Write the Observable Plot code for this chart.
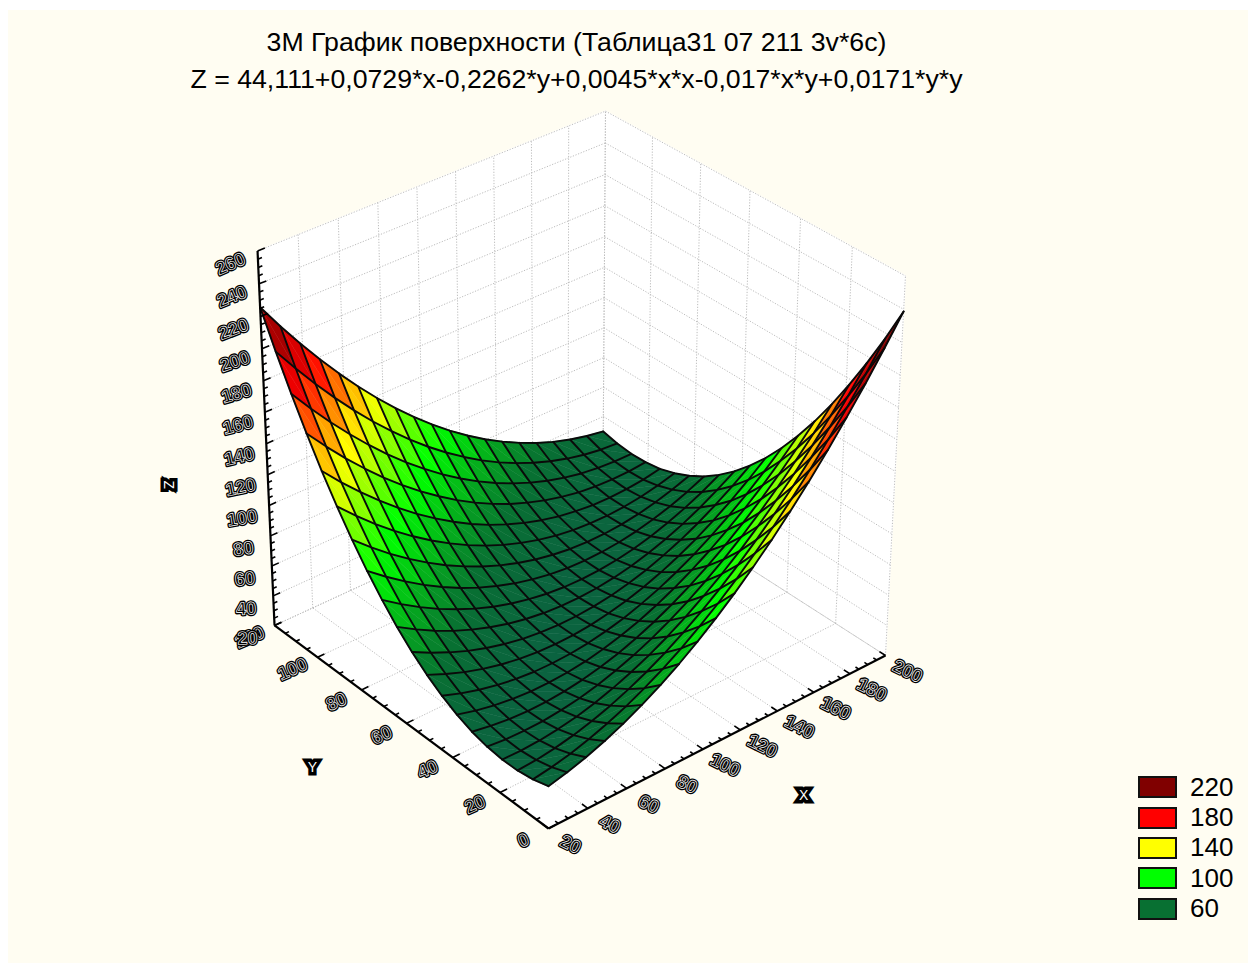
<!DOCTYPE html>
<html>
<head>
<meta charset="utf-8">
<script src="https://cdn.jsdelivr.net/npm/d3@7"></script>
<script src="https://cdn.jsdelivr.net/npm/@observablehq/plot@0.6"></script>
<style>
html,body{margin:0;padding:0;background:#fff;}
body{position:relative;width:1248px;height:963px;overflow:hidden;font-family:"Liberation Sans",Arial,sans-serif;color:#000;}
#panel{position:absolute;left:8px;top:10px;right:0;bottom:0;background:#fffdf2;}
#title{position:relative;height:104px;box-sizing:border-box;padding-top:24px;width:1153px;text-align:center;font-size:26.7px;line-height:37px;white-space:nowrap;}
#chart{position:relative;}
#legend{position:absolute;left:1138px;top:772px;}
.row{display:flex;align-items:center;height:30.4px;font-size:26px;}
.sw{width:35px;height:18px;border:2px solid #111;margin-right:13px;}
</style>
</head>
<body>
<div id="panel"></div>
<div id="title">3М График поверхности (Таблица31 07 211 3v*6c)<br>Z = 44,111+0,0729*x-0,2262*y+0,0045*x*x-0,017*x*y+0,0171*y*y</div>
<div id="chart"></div>
<div id="legend"></div>
<script>
const xValues = [20,29.47,38.95,48.42,57.89,67.37,76.84,86.32,95.79,105.26,114.74,124.21,133.68,143.16,152.63,162.11,171.58,181.05,190.53,200];
const yValues = [0,6.32,12.63,18.95,25.26,31.58,37.89,44.21,50.53,56.84,63.16,69.47,75.79,82.11,88.42,94.74,101.05,107.37,113.68,120];
// one row per x value, one column per y value
const zValues = [
[47.4,44.5,43.0,42.8,44.0,46.5,50.5,55.8,62.4,70.4,79.8,90.6,102.7,116.2,131.0,147.2,164.8,183.7,204.0,225.7],
[50.2,46.3,43.7,42.5,42.7,44.3,47.2,51.4,57.1,64.1,72.5,82.2,93.3,105.7,119.6,134.7,151.3,169.2,188.5,209.1],
[53.8,48.9,45.3,43.1,42.3,42.8,44.7,47.9,52.5,58.6,65.9,74.6,84.7,96.1,108.9,123.1,138.6,155.5,173.8,193.4],
[58.2,52.3,47.7,44.5,42.6,42.1,43.0,45.2,48.8,53.8,60.1,67.8,76.9,87.3,99.1,112.3,126.8,142.7,159.9,178.5],
[63.4,56.5,50.9,46.6,43.8,42.2,42.1,43.3,45.9,49.9,55.2,61.9,69.9,79.3,90.1,102.2,115.7,130.6,146.8,164.4],
[69.5,61.5,54.9,49.6,45.7,43.2,42.1,42.2,43.8,46.8,51.1,56.7,63.7,72.1,81.9,93.0,105.5,119.3,134.5,151.1],
[76.3,67.3,59.7,53.4,48.5,44.9,42.8,42.0,42.5,44.5,47.7,52.3,58.3,65.8,74.5,84.6,96.1,108.9,123.1,138.6],
[83.9,73.9,65.3,58.0,52.1,47.5,44.3,42.5,42.0,43.0,45.2,48.8,53.8,60.2,67.9,77.0,87.5,99.3,112.4,126.9],
[92.4,81.3,71.7,63.4,56.4,50.8,46.7,43.8,42.3,42.3,43.5,46.1,50.0,55.4,62.1,70.1,79.6,90.4,102.5,116.1],
[101.7,89.6,79.0,69.6,61.6,55.0,49.9,46.0,43.4,42.4,42.6,44.1,47.1,51.5,57.1,64.1,72.6,82.4,93.5,106.0],
[111.7,98.6,87.0,76.6,67.6,60.0,53.8,48.9,45.4,43.3,42.5,43.0,44.9,48.3,53.0,59.0,66.4,75.2,85.3,96.7],
[122.6,108.5,95.9,84.5,74.4,65.8,58.6,52.7,48.1,45.0,43.2,42.7,43.6,46.0,49.6,54.6,61.0,68.8,77.8,88.3],
[134.3,119.2,105.5,93.1,82.1,72.4,64.2,57.2,51.7,47.6,44.7,43.2,43.1,44.4,47.0,51.0,56.5,63.2,71.2,80.6],
[146.8,130.6,116.0,102.5,90.5,79.8,70.6,62.6,56.0,50.9,47.0,44.5,43.4,43.7,45.3,48.2,52.7,58.4,65.4,73.8],
[160.1,142.9,127.2,112.8,99.7,88.0,77.8,68.8,61.2,55.1,50.2,46.6,44.5,43.8,44.4,46.3,49.7,54.4,60.4,67.8],
[174.2,156.0,139.3,123.9,109.8,97.0,85.8,75.8,67.1,60.0,54.1,49.5,46.4,44.7,44.2,45.1,47.5,51.2,56.2,62.5],
[189.1,169.9,152.2,135.7,120.6,106.8,94.6,83.6,73.9,65.8,58.8,53.3,49.1,46.4,44.9,44.8,46.2,48.8,52.8,58.1],
[204.8,184.6,165.9,148.4,132.3,117.5,104.2,92.2,81.5,72.4,64.4,57.8,52.6,48.9,46.4,45.3,45.7,47.3,50.2,54.5],
[221.4,200.1,180.4,161.9,144.7,128.9,114.7,101.6,89.9,79.7,70.8,63.1,56.9,52.2,48.7,46.5,45.9,46.5,48.4,51.7],
[238.7,216.4,195.7,176.2,158.0,141.2,125.9,111.8,99.1,87.9,77.9,69.3,62.0,56.3,51.8,48.6,47.0,46.5,47.5,49.7]
];
const xTicks = [20,40,60,80,100,120,140,160,180,200];
const yTicks = [0,20,40,60,80,100,120];
const zTicks = [20,40,60,80,100,120,140,160,180,200,220,240,260];
const legendLevels = [220,180,140,100,60];
const colorDomain = [42,60,100,140,180,220];
const colorRange = ["#0b6340","#087032","#00ff00","#ffff00","#ff0000","#800000"];

const X0=20,X1=200,Y0=0,Y1=120,Z0=20,Z1=260,TOP=104;

// perspective view of the 3D box
function px(x,y,z){
  const u=(x-X0)/(X1-X0),v=(y-Y0)/(Y1-Y0),w=(z-Z0)/(Z1-Z0);
  return (548+387.7*u-253.3*v-33.9*w)/(1+0.0573*u+0.0754*v-0.0608*w);
}
function py(x,y,z){
  const u=(x-X0)/(X1-X0),v=(y-Y0)/(Y1-Y0),w=(z-Z0)/(Z1-Z0);
  return (828-135.5*u-155.9*v-418*w)/(1+0.0573*u+0.0754*v-0.0608*w);
}
const vertex=(p,id,extra)=>({sx:px(p[0],p[1],p[2]),sy:py(p[0],p[1],p[2]),id,...extra});
const seg=(a,b)=>({x1:px(...a),y1:py(...a),x2:px(...b),y2:py(...b)});

// walls and floor
const panels=[
  [[X0,Y1,Z0],[X1,Y1,Z0],[X1,Y1,Z1],[X0,Y1,Z1]],
  [[X1,Y0,Z0],[X1,Y1,Z0],[X1,Y1,Z1],[X1,Y0,Z1]],
  [[X0,Y0,Z0],[X1,Y0,Z0],[X1,Y1,Z0],[X0,Y1,Z0]]
].flatMap((c,k)=>c.map(p=>vertex(p,k)));

// dotted grid
const gridSegs=[
  ...xTicks.flatMap(x=>[seg([x,Y0,Z0],[x,Y1,Z0]),seg([x,Y1,Z0],[x,Y1,Z1])]),
  ...yTicks.flatMap(y=>[seg([X0,y,Z0],[X1,y,Z0]),seg([X1,y,Z0],[X1,y,Z1])]),
  ...zTicks.flatMap(z=>[seg([X0,Y1,z],[X1,Y1,z]),seg([X1,Y1,z],[X1,Y0,z])])
];

// surface: each grid cell is two triangles, painted back to front
const tris=[];
let tid=0;
for(let i=xValues.length-2;i>=0;i--){
  for(let j=yValues.length-2;j>=0;j--){
    const n=(a,b)=>[xValues[a],yValues[b],zValues[a][b]];
    const pairs=[[n(i+1,j+1),n(i+1,j),n(i,j+1)],[n(i,j),n(i+1,j),n(i,j+1)]];
    for(const t of pairs){
      const zv=(t[0][2]+t[1][2]+t[2][2])/3;
      t.forEach(p=>tris.push(vertex(p,tid,{zv})));
      tid++;
    }
  }
}
const meshRows=[
  ...xValues.flatMap((x,a)=>yValues.map((y,b)=>vertex([x,y,zValues[a][b]],"x"+a))),
  ...yValues.flatMap((y,b)=>xValues.map((x,a)=>vertex([x,y,zValues[a][b]],"y"+b)))
];

// axes and ticks
const minorStep=5;
const axisSegs=[seg([X0,Y0,Z0],[X1,Y0,Z0]),seg([X0,Y0,Z0],[X0,Y1,Z0]),seg([X0,Y1,Z0],[X0,Y1,Z1])];
const tickSegs=[];
for(let x=X0;x<=X1;x+=minorStep){const L=(x%20===0?0.02:0.011)*(Y1-Y0);tickSegs.push(seg([x,Y0,Z0],[x,Y0+L,Z0]));}
for(let y=Y0;y<=Y1;y+=minorStep){const L=(y%20===0?0.02:0.011)*(X1-X0);tickSegs.push(seg([X0,y,Z0],[X0+L,y,Z0]));}
for(let z=Z0;z<=Z1;z+=minorStep){const L=(z%20===0?0.02:0.011)*(X1-X0);tickSegs.push(seg([X0,Y1,z],[X0+L,Y1,z]));}

const lab=(t,p,rot)=>({t:String(t),sx:px(...p),sy:py(...p),rot});
const xLabels=xTicks.map(x=>lab(x,[x,Y0,Z0],26));
const yLabels=yTicks.map(y=>lab(y,[X0,y,Z0],-24));
const zLabels=zTicks.map(z=>lab(z,[X0,Y1,z],-4-(z-40)/220*20));
const font={fontFamily:"Liberation Sans",fontSize:18,fontWeight:"bold"};
function labelMarks(rows,dx,dy){
  const base={x:"sx",y:"sy",text:"t",rotate:"rot",dx,dy,opacity:0.999,...font};
  return [
    Plot.text(rows,{...base,fill:"#000",stroke:"#000",strokeWidth:3.4}),
    Plot.text(rows,{...base,fill:"#000",stroke:"#fff",strokeWidth:0.7,paintOrder:"fill"})
  ];
}
const titleMark=(t,p,dx,dy,rot)=>Plot.text([lab(t,p,rot)],{x:"sx",y:"sy",text:"t",rotate:"rot",dx,dy,opacity:0.999,fontFamily:"Liberation Sans",fontSize:14,fill:"#fff",stroke:"#000",strokeWidth:7,paintOrder:"stroke",strokeLinejoin:"miter"});

const chart=Plot.plot({
  width:1248,height:963-TOP,margin:0,
  style:{background:"transparent"},
  x:{domain:[0,1248],range:[0,1248],axis:null},
  y:{domain:[TOP,963],range:[0,963-TOP],axis:null},
  color:{type:"linear",domain:colorDomain,range:colorRange,clamp:true},
  marks:[
    Plot.line(panels,{x:"sx",y:"sy",z:"id",fill:"#fff",stroke:"#fff",curve:"linear-closed"}),
    Plot.link(gridSegs,{x1:"x1",y1:"y1",x2:"x2",y2:"y2",stroke:"#bdbdbd",strokeWidth:1,strokeDasharray:"1.2 1.6"}),
    Plot.line(tris,{x:"sx",y:"sy",z:"id",fill:"zv",stroke:"zv",strokeWidth:0.5,curve:"linear-closed"}),
    Plot.line(meshRows,{x:"sx",y:"sy",z:"id",stroke:"#0a0a0a",strokeWidth:1.9}),
    Plot.link(axisSegs,{x1:"x1",y1:"y1",x2:"x2",y2:"y2",stroke:"#000",strokeWidth:2.2}),
    Plot.link(tickSegs,{x1:"x1",y1:"y1",x2:"x2",y2:"y2",stroke:"#000",strokeWidth:1.6}),
    ...labelMarks(xLabels,22,16),
    ...labelMarks(yLabels,-25,12),
    ...labelMarks(zLabels,-27,13),
    titleMark("X",[110,Y0,Z0],82,56,0),
    titleMark("Y",[X0,60,Z0],-94,44,0),
    titleMark("Z",[X0,Y1,140],-98,41,90)
  ]
});
document.getElementById("chart").appendChild(chart);
const scale=chart.scale("color");
const legend=document.getElementById("legend");
legendLevels.forEach(v=>{
  const r=document.createElement("div");r.className="row";
  const s=document.createElement("div");s.className="sw";s.style.background=scale.apply(v);
  const t=document.createElement("span");t.textContent=v;
  r.append(s,t);legend.append(r);
});
</script>
</body>
</html>
